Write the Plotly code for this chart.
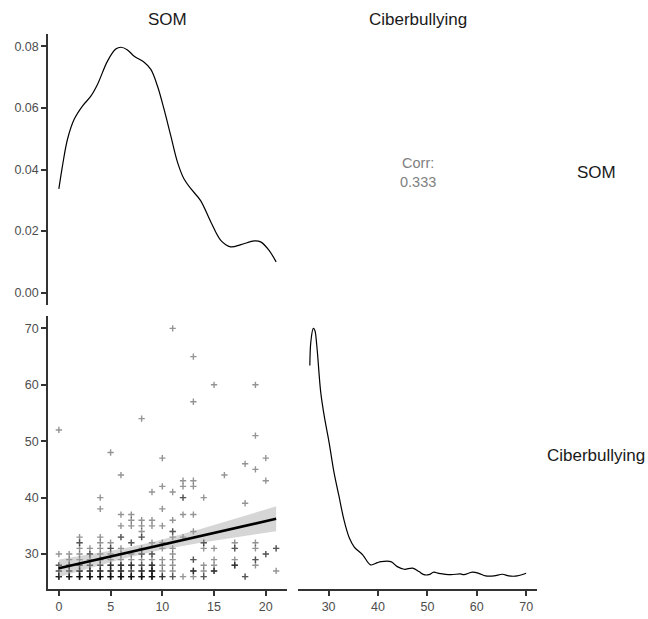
import numpy as np
import plotly.graph_objects as go

# Densidade de SOM (diagonal superior)
som_dens_x = [0, 0.35, 0.84, 1.48, 2.28, 3.09, 3.73, 4.7, 5.5, 6.0, 6.6, 7.28, 8.24,
              8.89, 9.53, 10.17, 10.82, 11.47, 12.1, 12.9, 13.7, 14.7, 15.65, 16.6,
              17.6, 18.9, 19.5, 20.3, 21]
som_dens_y = [0.0337, 0.0412, 0.0499, 0.0563, 0.0606, 0.0638, 0.0676, 0.0752, 0.0791,
              0.0797, 0.0789, 0.0768, 0.0748, 0.0725, 0.0671, 0.0595, 0.0509, 0.0423,
              0.0369, 0.0332, 0.0299, 0.0229, 0.0170, 0.0149, 0.0156, 0.0168, 0.0165,
              0.0138, 0.0100]

# Densidade de Ciberbullying (diagonal inferior)
cib_dens_x = [26.2, 26.4, 26.9, 27.2, 27.6, 28.4, 29.1, 30.1, 31.1, 32.1, 33.1, 34.2,
              35.2, 36.9, 38.5, 39.9, 40.6, 42.6, 43.9, 45.3, 47.0, 48.3, 49.3, 50.3,
              51.3, 52.3, 54.7, 56.7, 57.4, 59.1, 60.4, 61.8, 63.5, 65.2, 66.5, 68.2, 70]
cib_dens_y = [0.1358, 0.151, 0.1596, 0.1585, 0.1488, 0.1186, 0.1035, 0.0862, 0.0668,
              0.0517, 0.0366, 0.0248, 0.019, 0.014, 0.0075, 0.009, 0.0096, 0.0096,
              0.0064, 0.0047, 0.0054, 0.0032, 0.0012, 0.0012, 0.0028, 0.0021, 0.0012,
              0.0017, 0.0012, 0.0028, 0.0021, 0.0004, 0.0004, 0.0015, 0.0004, 0.0004,
              0.0021]

# Pontos da dispersão: valores de Ciberbullying para cada SOM = 0..21
ciber_by_som = [
    [26, 26, 26, 26, 27, 27, 28, 28, 30, 52],
    [26, 26, 26, 26, 27, 27, 28, 28, 29, 30],
    [26, 26, 26, 26, 26, 27, 27, 27, 28, 28, 29, 30, 31, 32, 32, 33],
    [26, 26, 26, 26, 26, 27, 27, 27, 28, 28, 29, 30, 30, 31],
    [26, 26, 26, 26, 26, 27, 27, 27, 28, 28, 29, 29, 30, 31, 32, 33, 38, 40],
    [26, 26, 26, 26, 26, 27, 27, 27, 28, 28, 28, 29, 30, 31, 31, 32, 48],
    [26, 26, 26, 26, 26, 27, 27, 27, 28, 28, 28, 29, 30, 31, 33, 33, 35, 37, 44],
    [26, 26, 26, 26, 26, 27, 27, 28, 28, 28, 29, 30, 32, 32, 35, 36, 37],
    [26, 26, 26, 26, 26, 27, 27, 27, 28, 28, 29, 30, 30, 31, 33, 33, 34, 35, 36, 54],
    [26, 26, 26, 26, 26, 27, 27, 27, 27, 28, 28, 28, 29, 30, 30, 32, 35, 36, 41],
    [26, 26, 26, 27, 28, 29, 31, 32, 35, 38, 42, 47],
    [26, 26, 27, 28, 29, 30, 31, 33, 34, 34, 36, 41, 70],
    [26, 33, 37, 40, 40, 42, 43],
    [26, 27, 27, 27, 29, 29, 34, 37, 42, 43, 57, 65],
    [26, 26, 27, 28, 31, 32, 32, 40],
    [27, 27, 27, 28, 29, 31, 60],
    [44],
    [28, 28, 28, 29, 31, 31, 32],
    [26, 26, 39, 46],
    [28, 29, 29, 31, 32, 45, 51, 60],
    [30, 30, 43, 47],
    [27, 31, 31],
]
som = [k for k, vals in enumerate(ciber_by_som) for _ in vals]
ciber = [v for vals in ciber_by_som for v in vals]

corr_label = "Corr:<br>0.333"
var_names = ["SOM", "Ciberbullying"]

# Reta de regressão linear com intervalo de confiança de 95%
x = np.array(som, dtype=float)
y = np.array(ciber, dtype=float)
n = len(x)
b1, b0 = np.polyfit(x, y, 1)
resid = y - (b0 + b1 * x)
s = np.sqrt((resid ** 2).sum() / (n - 2))
sxx = ((x - x.mean()) ** 2).sum()
grid = np.linspace(x.min(), x.max(), 80)
fit = b0 + b1 * grid
se = s * np.sqrt(1 / n + (grid - x.mean()) ** 2 / sxx)
t = 1.968
lower = fit - t * se
upper = fit + t * se

W, H = 648, 619


def px(a, b):
    return [a / W, b / W]


def py(top, bottom):
    return [1 - bottom / H, 1 - top / H]


FONT = "Liberation Sans, Arial, sans-serif"
tickfont = dict(family=FONT, size=12.5, color="#4d4d4d")

fig = go.Figure()

fig.add_trace(go.Scatter(x=som_dens_x, y=som_dens_y, mode="lines",
                         line=dict(color="black", width=1.2, shape="spline"),
                         xaxis="x", yaxis="y"))
fig.add_trace(go.Scatter(x=som, y=ciber, mode="markers",
                         marker=dict(symbol="cross-thin", size=4.5,
                                     line=dict(width=1.4, color="rgba(0,0,0,0.42)")),
                         xaxis="x2", yaxis="y2"))
fig.add_trace(go.Scatter(x=grid, y=lower, mode="lines", line=dict(width=0), hoverinfo="skip",
                         xaxis="x2", yaxis="y2"))
fig.add_trace(go.Scatter(x=grid, y=upper, mode="lines", line=dict(width=0), fill="tonexty",
                         fillcolor="rgba(153,153,153,0.4)", hoverinfo="skip", xaxis="x2", yaxis="y2"))
fig.add_trace(go.Scatter(x=grid, y=fit, mode="lines", line=dict(color="black", width=2.6),
                         xaxis="x2", yaxis="y2"))
fig.add_trace(go.Scatter(x=cib_dens_x, y=cib_dens_y, mode="lines",
                         line=dict(color="black", width=1.2, shape="spline"),
                         xaxis="x3", yaxis="y3"))

axis_line = dict(showline=True, linecolor="#333333", linewidth=1.5, ticks="outside", ticklen=5,
                 tickwidth=1.5, tickcolor="#333333", tickfont=tickfont, showgrid=False, zeroline=False)
hidden = dict(visible=False, showgrid=False, zeroline=False)

fig.update_layout(
    width=W, height=H,
    margin=dict(l=0, r=0, t=0, b=0),
    paper_bgcolor="white", plot_bgcolor="white",
    showlegend=False,
    xaxis=dict(domain=px(48, 287), range=[-1.05, 22.05], anchor="y", **hidden),
    yaxis=dict(domain=py(34, 305), range=[-0.004, 0.084], anchor="x",
               tickvals=[0, 0.02, 0.04, 0.06, 0.08], tickformat=".2f", **axis_line),
    xaxis2=dict(domain=px(48, 287), range=[-1.05, 22.05], anchor="y2",
                tickvals=[0, 5, 10, 15, 20], **axis_line),
    yaxis2=dict(domain=py(316, 589), range=[23.8, 72.2], anchor="x2",
                tickvals=[30, 40, 50, 60, 70], **axis_line),
    xaxis3=dict(domain=px(298, 537), range=[23.8, 72.2], anchor="y3",
                tickvals=[30, 40, 50, 60, 70], **axis_line),
    yaxis3=dict(domain=py(316, 589), range=[-0.008, 0.1676], anchor="x3", **hidden),
)

strip_font = dict(family=FONT, size=17, color="#1a1a1a")


def label(text, cx, cy, font):
    return dict(text=text, x=cx / W, y=1 - cy / H, xref="paper", yref="paper",
                xanchor="center", yanchor="middle", showarrow=False, font=font)


annotations = [
    label(var_names[0], 167.5, 20, strip_font),
    label(var_names[1], 417.5, 20, strip_font),
    label(var_names[0], 596, 173, strip_font),
    label(var_names[1], 596, 455, strip_font),
    label(corr_label, 417.5, 173, dict(family=FONT, size=14.5, color="#7f7f7f")),
]
fig.update_layout(annotations=annotations)

# sem a margem padrão do <body>, para a figura ocupar a janela inteira
fig.write_html("out.html", config={"displayModeBar": False},
               post_script="document.body.style.margin='0';")
